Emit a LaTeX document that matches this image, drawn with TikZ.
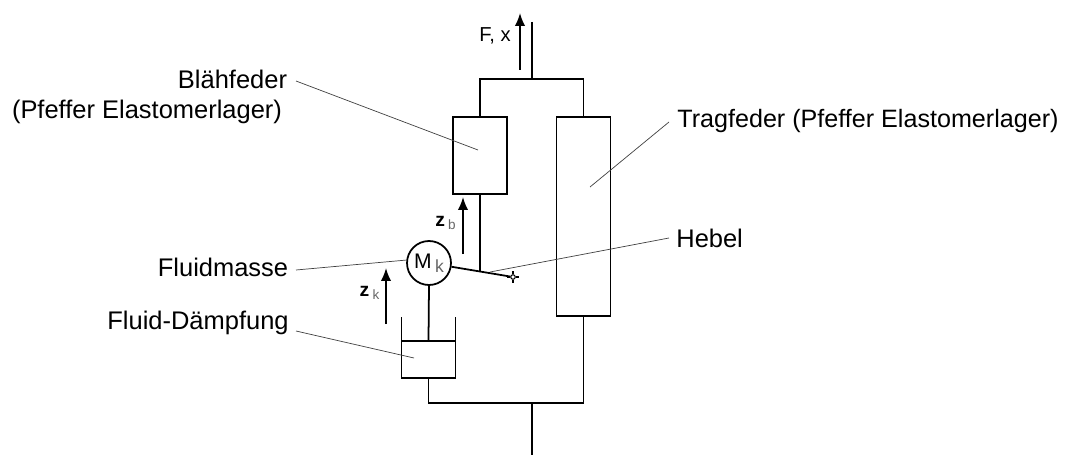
\documentclass[tikz,border=0pt]{standalone}
\usepackage{fontspec}
\setmainfont{Liberation Sans}
\usetikzlibrary{arrows.meta,positioning,shapes.geometric}

\tikzset{
    lbl/.style={font=\fontsize{14.5}{16}\selectfont, inner sep=0pt},
    sublbl/.style={font=\fontsize{11}{13}\selectfont, inner sep=0pt},
    bar/.style={line width=1pt},
    leader/.style={line width=0.4pt, black!75},
    motion/.style={line width=1pt, -{Latex[length=2.6mm, width=2.1mm]}},
    springbox/.style={draw, line width=1pt, inner sep=0pt, minimum width=1.08cm}
}

\begin{document}
\begin{tikzpicture}[x=0.02cm, y=-0.02cm]
    \useasboundingbox (0,0) rectangle (1069,456);

    % Springs and mass
    \node[springbox, minimum height=1.54cm] (blaeh) at (480,155.5) {};
    \node[springbox, minimum height=3.98cm] (trag) at (583.5,216.5) {};
    \node[draw, bar, circle, inner sep=0pt, minimum size=0.88cm, font=\fontsize{12}{14}\selectfont] (mass) at (429,263) {M\,\raisebox{-2pt}{\fontsize{10}{11}\selectfont\color{black!60}k}};
    \node[springbox, minimum height=0.74cm] (piston) at (428.5,359.5) {};
    \node[draw, line width=0.6pt, circle, fill=white, inner sep=0pt, minimum size=0.09cm] (pivot) at (513,277) {};

    % Junctions
    \coordinate (topin) at (532,79);
    \coordinate (toptip) at (532,22);
    \coordinate (botin) at (532,403);
    \coordinate (bottip) at (532,455);
    \coordinate (lever) at (480,272);
    \coordinate (wallL) at ([xshift=0.5pt]piston.north west);
    \coordinate (wallR) at ([xshift=-0.5pt]piston.north east);

    % Frame
    \draw[bar] (toptip) -- (topin);
    \draw[bar] (blaeh.north) |- (topin) -| (trag.north);
    \draw[bar] (piston.south) |- (botin) -| (trag.south);
    \draw[bar] (botin) -- (bottip);
    \draw[bar] (blaeh.south) -- (lever);
    \draw[bar] (mass) -- (pivot);
    \draw[bar] (mass.south) -- (piston.north);
    \draw[bar] (wallL) -- ++(0,-23);
    \draw[bar] (wallR) -- ++(0,-23);
    \draw[line width=0.6pt] (pivot.north) -- ++(0,-3);
    \draw[line width=0.6pt] (pivot.south) -- ++(0,3);
    \draw[line width=0.6pt] (pivot.west) -- ++(-3,0);
    \draw[line width=0.6pt] (pivot.east) -- ++(3,0);

    % Arrows
    \coordinate (fs) at (520,70);
    \coordinate (fe) at (520,13);
    \coordinate (zbs) at (463,254);
    \coordinate (zbe) at (463,197);
    \coordinate (zks) at (386,324);
    \coordinate (zke) at (386,268);
    \draw[motion] (fs) -- (fe);
    \draw[motion] (zbs) -- (zbe);
    \draw[motion] (zks) -- (zke);
    \node[font=\fontsize{11.5}{13}\selectfont, inner sep=0pt] (force) at (495,36) {F, x};
    \node[sublbl] (zb) at (446,223) {\textbf{z}\,\textsubscript{\color{black!60}b}};
    \node[sublbl] (zk) at (370,293) {\textbf{z}\,\textsubscript{\color{black!60}k}};

    % Labels
    \node[lbl] (lblaeh) at (232.5,79) {Blähfeder};
    \node[lbl] (lpfeffer) at (147,112) {(Pfeffer Elastomerlager)};
    \node[lbl, anchor=west, font=\fontsize{14.3}{16}\selectfont] (ltrag) at (677,121) {Tragfeder (Pfeffer Elastomerlager)};
    \node[lbl] (lmass) at (223,267) {Fluidmasse};
    \node[lbl, anchor=west] (lhebel) at (676,238) {Hebel};
    \node[lbl] (ldaempf) at (198,323) {Fluid-Dämpfung};

    % Leaders
    \coordinate (a1) at (296,81);
    \coordinate (a2) at (478,150);
    \coordinate (b1) at (669,122);
    \coordinate (b2) at (590,187);
    \coordinate (c1) at (296,270);
    \coordinate (c2) at (407,260);
    \coordinate (d1) at (669,238);
    \coordinate (d2) at (490,272);
    \coordinate (e1) at (296,331);
    \coordinate (e2) at (414,358);
    \draw[leader] (a1) -- (a2);
    \draw[leader] (b1) -- (b2);
    \draw[leader] (c1) -- (c2);
    \draw[leader] (d1) -- (d2);
    \draw[leader] (e1) -- (e2);
\end{tikzpicture}
\end{document}
